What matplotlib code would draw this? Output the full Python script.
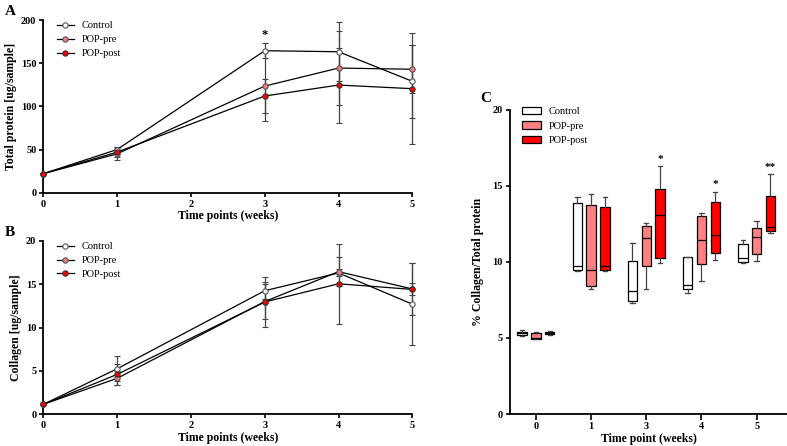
import matplotlib.pyplot as plt
from matplotlib.patches import Patch
from matplotlib.lines import Line2D

plt.rcParams['font.family'] = ['Liberation Serif', 'DejaVu Serif']

# time course data (mean and error) for panels A and B
weeks = [0, 1, 3, 4, 5]
groups = ['Control', 'POP-pre', 'POP-post']
colors = ['white', '#f08080', '#ff0000']
edges = ['#555555', '#555555', '#333333']

prot_mean = {
    'Control': [22, 50, 164.5, 163.3, 129],
    'POP-pre': [22, 45, 123.5, 144.4, 143],
    'POP-post': [22, 47, 112, 124.7, 120.5],
}
prot_err = {
    'Control': [0, 3, 9, 34, 42],
    'POP-pre': [0, 7, 40, 43, 28],
    'POP-post': [0, 6, 20, 43.5, 64],
}
coll_mean = {
    'Control': [1.15, 5.25, 14.25, 16.3, 12.7],
    'POP-pre': [1.15, 4.15, 13.0, 16.45, 14.45],
    'POP-post': [1.15, 4.6, 12.95, 15.05, 14.4],
}
coll_err = {
    'Control': [0, 1.45, 1.0, 0.4, 4.7],
    'POP-pre': [0, 0.8, 2.0, 1.7, 0.7],
    'POP-post': [0, 1.2, 2.9, 4.6, 3.0],
}

# box plot data for panel C
box_labels = ['0', '1', '3', '4', '5']
box_stats = {
    'Control': dict(q1=[5.2, 9.47, 7.43, 8.22, 9.98], med=[5.3, 9.76, 8.09, 8.5, 10.29],
                    q3=[5.4, 13.86, 10.04, 10.35, 11.16], lo=[5.15, 9.4, 7.3, 7.94, 9.91],
                    hi=[5.5, 14.3, 11.27, 10.35, 11.45]),
    'POP-pre': dict(q1=[4.95, 8.44, 9.76, 9.87, 10.5], med=[5.0, 9.45, 11.56, 11.43, 11.67],
                    q3=[5.3, 13.75, 12.35, 13.0, 12.24], lo=[4.9, 8.2, 8.2, 8.75, 10.09],
                    hi=[5.4, 14.45, 12.54, 13.2, 12.72]),
    'POP-post': dict(q1=[5.25, 9.5, 10.26, 10.57, 12.02], med=[5.3, 9.71, 13.07, 11.75, 12.28],
                     q3=[5.4, 13.64, 14.78, 13.93, 14.36], lo=[5.2, 9.43, 9.91, 10.15, 11.89],
                     hi=[5.45, 14.25, 16.3, 14.63, 15.75]),
}
box_colors = ['white', '#ff8080', '#ff0000']
signif = {2: '*', 3: '*', 4: '**'}

fig = plt.figure(figsize=(7.87, 4.46), dpi=100)


def style(ax):
    ax.spines['top'].set_visible(False)
    ax.spines['right'].set_visible(False)
    ax.spines['left'].set_linewidth(1.3)
    ax.spines['bottom'].set_linewidth(1.3)
    ax.tick_params(direction='out', length=3, width=1.2, labelsize=7.5, pad=2)
    for lab in ax.get_xticklabels() + ax.get_yticklabels():
        lab.set_fontweight('bold')


def line_panel(ax, mean, err, ylim, yticks, ylabel):
    handles = []
    for g, c, e in zip(groups, colors, edges):
        ax.errorbar(weeks, mean[g], yerr=err[g], color='black', lw=0.9,
                    ecolor='#444444', elinewidth=0.9, capsize=2, capthick=0.9,
                    marker='o', ms=3.8, mfc=c, mec=e, mew=0.8, clip_on=False, zorder=3)
        handles.append(Line2D([], [], color='black', lw=0.9, marker='o', ms=3.8,
                              mfc=c, mec=e, mew=0.8, label=g))
    ax.set_xlim(0, 5)
    ax.set_ylim(*ylim)
    ax.set_yticks(yticks)
    ax.set_xticks(range(6))
    ax.set_xlabel('Time points (weeks)', fontsize=8.5, fontweight='bold', labelpad=1)
    ax.set_ylabel(ylabel, fontsize=8.5, fontweight='bold', labelpad=3)
    ax.legend(handles=handles, loc='upper left', bbox_to_anchor=(0.02, 1.03), frameon=False,
              fontsize=7.5, handlelength=1.6, labelspacing=0.45, borderaxespad=0.2)
    style(ax)


axA = fig.add_axes([0.055, 0.568, 0.469, 0.387])
line_panel(axA, prot_mean, prot_err, (0, 200), [0, 50, 100, 150, 200], 'Total protein [ug/sample]')
axA.text(3, 176, '*', ha='center', va='bottom', fontsize=9, fontweight='bold')

axB = fig.add_axes([0.055, 0.071, 0.469, 0.389])
line_panel(axB, coll_mean, coll_err, (0, 20), [0, 5, 10, 15, 20], 'Collagen [ug/sample]')

axC = fig.add_axes([0.648, 0.0717, 0.352, 0.682])
offsets = [-0.25, 0, 0.25]
for g, c, off in zip(groups, box_colors, offsets):
    s = box_stats[g]
    stats = [dict(q1=s['q1'][i], med=s['med'][i], q3=s['q3'][i],
                  whislo=s['lo'][i], whishi=s['hi'][i]) for i in range(len(box_labels))]
    pos = [i + off for i in range(len(box_labels))]
    axC.bxp(stats, positions=pos, widths=0.17, capwidths=0.08, showfliers=False,
            patch_artist=True, manage_ticks=False,
            boxprops=dict(facecolor=c, edgecolor='black', linewidth=0.9),
            medianprops=dict(color='black', linewidth=0.9),
            whiskerprops=dict(color='#444444', linewidth=0.9),
            capprops=dict(color='#444444', linewidth=0.9))
for i, mark in signif.items():
    axC.text(i + 0.25, box_stats['POP-post']['hi'][i] + 0.15, mark, ha='center', va='bottom',
             fontsize=8, fontweight='bold')
axC.set_xlim(-0.47, 4.55)
axC.set_ylim(0, 20)
axC.set_yticks([0, 5, 10, 15, 20])
axC.set_xticks(range(len(box_labels)))
axC.set_xticklabels(box_labels)
axC.set_xlabel('Time point (weeks)', fontsize=8.5, fontweight='bold', labelpad=1)
axC.set_ylabel('% Collagen/Total protein', fontsize=8.5, fontweight='bold', labelpad=6)
handles = [Patch(facecolor=c, edgecolor='black', linewidth=0.9, label=g)
           for g, c in zip(groups, box_colors)]
axC.legend(handles=handles, loc='upper left', bbox_to_anchor=(0.02, 1.03), frameon=False,
           fontsize=7.5, handlelength=1.8, handleheight=0.7, labelspacing=0.5, borderaxespad=0.2)
style(axC)
axC.tick_params(axis='x', length=4)

fig.text(0.006, 0.975, 'A', fontsize=11, fontweight='bold', va='center')
fig.text(0.006, 0.478, 'B', fontsize=11, fontweight='bold', va='center')
fig.text(0.61, 0.78, 'C', fontsize=11, fontweight='bold', va='center')

fig.savefig('out.png', dpi=100)
